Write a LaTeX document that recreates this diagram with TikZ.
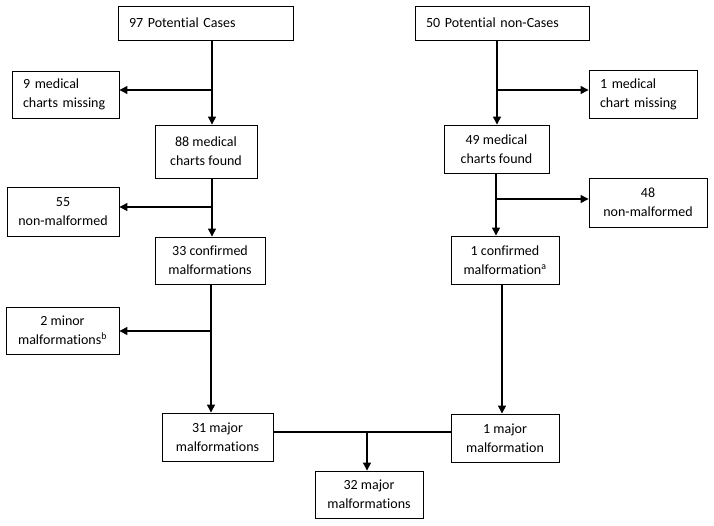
\documentclass[tikz,border=0pt]{standalone}
\usepackage{fontspec}
\setmainfont[Ligatures=NoCommon]{Carlito}
\usetikzlibrary{arrows.meta}
\newcommand\mynohyph{\hyphenpenalty=10000\relax}
\begin{document}
\begin{tikzpicture}[x=1pt,y=-1pt,
  box/.style={draw,line width=0.9pt,rectangle,inner sep=0pt,align=center,font=\fontsize{14}{19}\selectfont},
  lbox/.style={draw,line width=0.9pt,rectangle,inner ysep=0pt,inner xsep=11pt,align=left,font=\fontsize{14}{19}\selectfont\mynohyph},
  arr/.style={line width=1.3pt,-{Triangle[length=8pt,width=8pt]}},
  ln/.style={line width=1.3pt}]
\useasboundingbox (0,0) rectangle (714,525);
% left column
\node[lbox,text width=153pt,minimum height=34pt] (pc) at (205.5,23) {97 Potential Cases};
\node[lbox,text width=85pt,minimum height=47pt] (m9) at (65.5,94.5) {9 medical\\charts missing};
\node[box,minimum width=102pt,minimum height=53pt] (f88) at (206,151.5) {88 medical\\charts found};
\node[box,minimum width=112pt,minimum height=49pt] (n55) at (63,211.5) {55\\non-malformed};
\node[box,minimum width=110pt,minimum height=47pt] (c33) at (210,260.5) {33 confirmed\\malformations};
\node[box,minimum width=113pt,minimum height=47pt] (mi2) at (62.5,330.5) {2 minor\\malformations\textsuperscript{b}};
\node[box,minimum width=111pt,minimum height=48pt] (ma31) at (217.5,437) {31 major\\malformations};
\node[box,minimum width=108pt,minimum height=47pt] (ma32) at (369,494.5) {32 major\\malformations};
% right column
\node[lbox,text width=152pt,minimum height=34pt] (pn) at (502,23) {50 Potential non-Cases};
\node[lbox,text width=86pt,minimum height=48pt] (m1) at (643,94) {1 medical\\chart missing};
\node[box,minimum width=105pt,minimum height=48pt] (f49) at (496.5,149) {49 medical\\charts found};
\node[box,minimum width=118pt,minimum height=49pt] (n48) at (648,202.5) {48\\non-malformed};
\node[box,minimum width=108pt,minimum height=48pt] (c1) at (505,260) {1 confirmed\\malformation\textsuperscript{a}};
\node[box,minimum width=108pt,minimum height=48pt] (ma1) at (505,438) {1 major\\malformation};
% junctions
\coordinate (j1) at (212,90);
\coordinate (j2) at (212,207);
\coordinate (j3) at (211,331);
\coordinate (k1) at (497,90);
\coordinate (k2) at (496,199);
\coordinate (k3) at (502,300);
\coordinate (j5) at (367,432);
% left connectors
\draw[arr] (pc.south -| j1) -- (f88.north -| j1);
\draw[arr] (j1) -- (j1 -| m9.east);
\draw[arr] (f88.south -| j2) -- (c33.north -| j2);
\draw[arr] (j2) -- (j2 -| n55.east);
\draw[arr] (c33.south -| j3) -- (ma31.north -| j3);
\draw[arr] (j3) -- (j3 -| mi2.east);
% right connectors
\draw[arr] (pn.south -| k1) -- (f49.north -| k1);
\draw[arr] (k1) -- (k1 -| m1.west);
\draw[arr] (f49.south -| k2) -- (c1.north -| k2);
\draw[arr] (k2) -- (k2 -| n48.west);
\draw[arr] (c1.south -| k3) -- (ma1.north -| k3);
% merge
\draw[ln] (j5 -| ma31.east) -- (j5 -| ma1.west);
\draw[arr] (j5) -- (ma32.north -| j5);
\end{tikzpicture}
\end{document}
